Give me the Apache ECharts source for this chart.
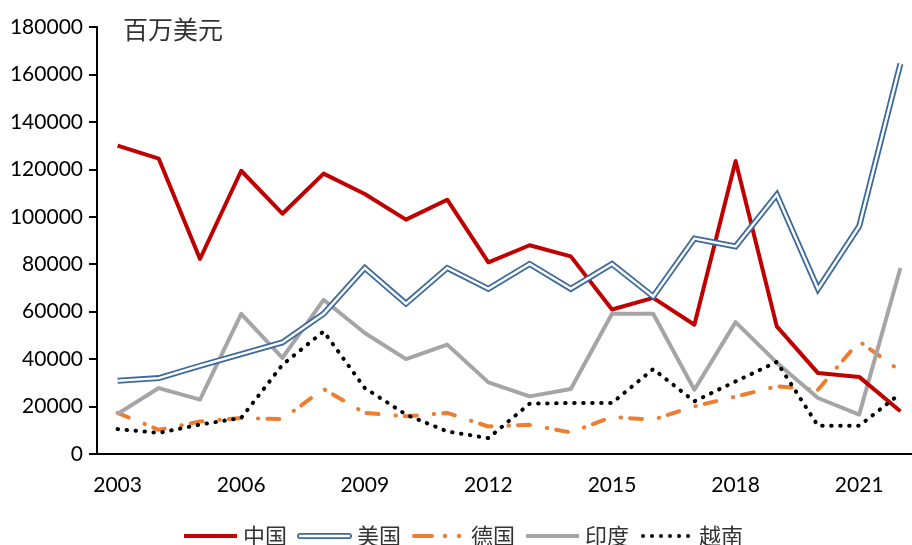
<!DOCTYPE html>
<html>
<head>
<meta charset="utf-8">
<script src="https://cdn.jsdelivr.net/npm/echarts@6/dist/echarts.min.js"></script>
<style>
  html, body { margin: 0; padding: 0; background: #fff; }
  #chart { width: 912px; height: 545px; }
</style>
</head>
<body>
<div id="chart"></div>
<script>
// 年份
var years = ['2003','2004','2005','2006','2007','2008','2009','2010','2011','2012',
             '2013','2014','2015','2016','2017','2018','2019','2020','2021','2022'];
// 百万美元
var china   = [130000,124500,82200,119400,101300,118200,109600,98800,107200,80800,
               88000,83300,60900,65800,54500,123500,53800,34100,32500,18000];
var usa     = [30900,32000,37200,42100,47000,59100,78400,63400,78400,69600,
               80100,69600,80100,66400,90800,87500,109300,69600,96000,164500];
var germany = [17300,10200,13700,15200,14700,27400,17300,15900,17300,11600,
               12300,9100,15600,14500,20100,24200,28500,27100,47500,35000];
var india   = [16900,27800,22900,59100,40500,65000,51000,40000,46100,30200,
               24300,27400,59100,59100,27100,55600,38500,23600,16600,78400];
var vietnam = [10500,8900,12400,15200,37600,51700,27800,16600,9500,6700,
               21200,21500,21500,35800,22200,30600,38800,11900,11900,25500];

var yMax = 180000, yStep = 20000;

var myChart = echarts.init(document.getElementById('chart'));

function svgIcon(body) {
    var s = "<svg xmlns='http://www.w3.org/2000/svg' width='55' height='10'>" + body + "</svg>";
    return 'image://data:image/svg+xml;charset=utf-8,' + encodeURIComponent(s);
}
var icons = {
    '中国': svgIcon("<line x1='1' y1='5' x2='54' y2='5' stroke='#C00000' stroke-width='4'/>"),
    '美国': svgIcon("<line x1='3' y1='5' x2='52' y2='5' stroke='#3D6A9C' stroke-width='6' stroke-linecap='round'/>" +
                    "<line x1='3' y1='5' x2='52' y2='5' stroke='#fff' stroke-width='2.4' stroke-linecap='round'/>"),
    '德国': svgIcon("<line x1='3' y1='5' x2='21' y2='5' stroke='#ED7D31' stroke-width='4' stroke-linecap='round'/>" +
                    "<circle cx='34' cy='5' r='2.2' fill='#ED7D31'/><circle cx='48' cy='5' r='2.2' fill='#ED7D31'/>"),
    '印度': svgIcon("<line x1='1' y1='5' x2='54' y2='5' stroke='#A5A5A5' stroke-width='4'/>"),
    '越南': svgIcon("<circle cx='4' cy='5' r='2' fill='#000'/><circle cx='13' cy='5' r='2' fill='#000'/>" +
                    "<circle cx='22' cy='5' r='2' fill='#000'/><circle cx='31' cy='5' r='2' fill='#000'/>" +
                    "<circle cx='40' cy='5' r='2' fill='#000'/><circle cx='49' cy='5' r='2' fill='#000'/>")
};

var option = {
    animation: false,
    backgroundColor: '#fff',
    textStyle: { fontFamily: 'Lato, "Noto Sans CJK SC", sans-serif' },
    title: {
        text: '百万美元',
        left: 118,
        top: 12,
        textStyle: { fontFamily: '"Noto Sans CJK SC"', fontSize: 25, fontWeight: 'normal', color: '#333' }
    },
    legend: {
        left: 178,
        top: 520,
        itemWidth: 55,
        itemHeight: 10,
        itemGap: 10,
        textStyle: { fontFamily: '"Noto Sans CJK SC"', fontSize: 22, color: '#333' },
        data: ['中国','美国','德国','印度','越南'].map(function (n) {
            return { name: n, icon: icons[n] };
        })
    },
    grid: { left: 97, top: 27, width: 824, height: 427, outerBoundsMode: 'none' },
    //横坐标
    xAxis: {
        type: 'category',
        boundaryGap: true,
        data: years,
        axisLine: { lineStyle: { color: '#000', width: 2 } },
        axisTick: { interval: 2, length: 8, lineStyle: { color: '#000', width: 2 } },
        axisLabel: { interval: 2, margin: 21, fontSize: 21, color: '#000', fontFamily: 'Lato' },
        splitLine: { show: false }
    },
    //纵坐标
    yAxis: {
        type: 'value',
        min: 0,
        max: yMax,
        interval: yStep,
        axisLine: { show: true, lineStyle: { color: '#000', width: 2 } },
        axisTick: { show: true, length: 8, lineStyle: { color: '#000', width: 2 } },
        axisLabel: {
            margin: 14, fontSize: 21, color: '#000', fontFamily: 'Lato',
            formatter: function (v) { return String(v); }
        },
        splitLine: { show: false }
    },
    series: [
        {
            name: '中国', type: 'line', data: china, symbol: 'none', z: 3,
            lineStyle: { color: '#C00000', width: 4, join: 'round' }
        },
        {
            name: '美国', type: 'line', data: usa, symbol: 'none', z: 4,
            lineStyle: { color: '#3D6A9C', width: 6, join: 'miter' }
        },
        {
            name: '美国内线', type: 'line', data: usa, symbol: 'none', z: 4,
            lineStyle: { color: '#fff', width: 2.4, join: 'miter' }
        },
        {
            name: '德国', type: 'line', data: germany, symbol: 'none', z: 2,
            lineStyle: { color: '#ED7D31', width: 4, cap: 'round', type: [12, 17, 0.5, 9] }
        },
        {
            name: '印度', type: 'line', data: india, symbol: 'none', z: 2,
            lineStyle: { color: '#A5A5A5', width: 4, join: 'round' }
        },
        {
            name: '越南', type: 'line', data: vietnam, symbol: 'none', z: 5,
            lineStyle: { color: '#000', width: 4, cap: 'round', type: [0.5, 8.5] }
        }
    ]
};
myChart.setOption(option);
</script>
</body>
</html>
